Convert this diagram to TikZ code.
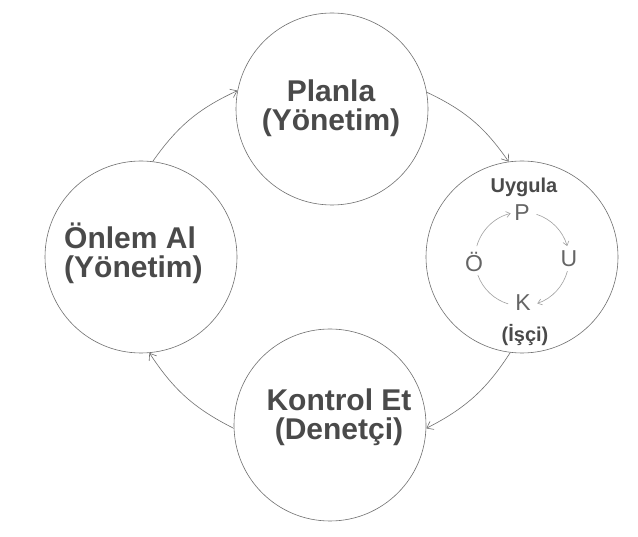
\documentclass[tikz,border=0pt]{standalone}
\usepackage{fontspec}
\setmainfont{Liberation Sans}
\usetikzlibrary{arrows.meta}
\definecolor{ink}{HTML}{4A4A4A}
\definecolor{rim}{HTML}{707070}
\definecolor{faint}{HTML}{A0A0A0}
\begin{document}
\begin{tikzpicture}[x=1pt,y=1pt,
  ring/.style={circle,draw=rim,line width=0.6pt,minimum size=192pt,inner sep=0pt},
  big/.style={font=\fontsize{30}{29}\selectfont\bfseries,text=ink,inner sep=0pt},
  small/.style={font=\fontsize{20}{20}\selectfont\bfseries,text=ink,inner sep=0pt},
  letter/.style={font=\fontsize{23}{23}\selectfont,text=ink!85,inner sep=0pt},
  flow/.style={draw=rim,line width=0.6pt,-{Straight Barb[length=6pt,width=9pt]}},
  cycle/.style={draw=faint,line width=0.6pt},
  cyclehead/.style={cycle,-{Straight Barb[length=4pt,width=6pt]}},
]
\useasboundingbox[fill=white] (0,0) rectangle (638,-537);

% the four stages
\node[ring] (planla)  at (332,-109) {};
\node[ring] (uygula)  at (522,-257) {};
\node[ring] (kontrol) at (330,-425) {};
\node[ring] (onlem)   at (141,-257) {};

\node[big,align=center] (planlaT) at (331,-108) {Planla\\(Yönetim)};
\node[big,align=left,anchor=west] (onlemT) at (64,-253) {Önlem Al\\(Yönetim)};
\node[big,align=center] (kontrolT) at (339,-417) {Kontrol Et\\(Denetçi)};
\node[small,anchor=base] (uygulaT) at (524,-193) {Uygula};
\node[small,anchor=base] (isciT) at (525,-342) {(İşçi)};

% small cycle inside the "Uygula" stage
\coordinate (ic) at (522,-259);
\node[letter] (p) at (522,-213) {P};
\node[letter] (u) at (569,-259) {U};
\node[letter] (k) at (523,-303) {K};
\node[letter] (o) at (474,-262) {Ö};

\draw[cyclehead] ([shift={(72:47)}]ic) arc[start angle=72,end angle=16,radius=47];
\draw[cyclehead] ([shift={(-15:47)}]ic) arc[start angle=-15,end angle=-71,radius=47];
\draw[cycle] ([shift={(-107:47)}]ic) arc[start angle=-107,end angle=-160,radius=47];
\draw[cyclehead] ([shift={(164:47)}]ic) arc[start angle=164,end angle=104,radius=47];

% connectors between the stages
\draw[flow] (onlem.83) to[bend left=15] (planla.169);
\draw[flow] (planla.10) to[bend left=15] (uygula.98);
\draw[flow] (uygula.263) to[bend left=15] (kontrol.358);
\draw[flow] (kontrol.182) to[bend left=15] (onlem.275);
\end{tikzpicture}
\end{document}
